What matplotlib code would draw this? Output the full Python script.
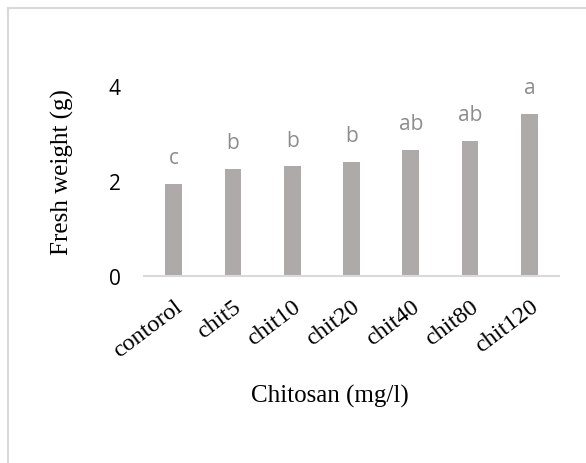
import matplotlib
matplotlib.use("Agg")
import matplotlib.pyplot as plt
from matplotlib.lines import Line2D

categories = ["contorol", "chit5", "chit10", "chit20", "chit40", "chit80", "chit120"]
fresh_weight = [1.94, 2.25, 2.31, 2.40, 2.65, 2.85, 3.42]
letters = ["c", "b", "b", "b", "ab", "ab", "a"]
yticks = [0, 2, 4]

W, H = 586, 464
fig = plt.figure(figsize=(W / 100, H / 100), dpi=100)
ax = fig.add_axes([144 / W, (H - 277) / H, 415 / W, 4.5 * 47.5 / H])

x = range(len(categories))
ax.bar(x, fresh_weight, width=0.28, color="#AEAAAA", zorder=2)
for i, (v, lab) in enumerate(zip(fresh_weight, letters)):
    ax.text(i, v + 0.33, lab, ha="center", va="bottom", fontsize=15,
            family="Open Sans", color="#8C8C8C", clip_on=False)

ax.set_xlim(-0.5, len(categories) - 0.5)
ax.set_ylim(0, 4.5)
ax.set_yticks(yticks)
ax.set_yticklabels([str(t) for t in yticks], family="Open Sans", fontsize=15)
ax.tick_params(axis="y", length=0, pad=17)
ax.set_xticks(list(x))
ax.set_xticklabels(categories, rotation=37, ha="right", rotation_mode="anchor",
                   family="Liberation Serif", fontsize=17.5)
ax.tick_params(axis="x", length=0, pad=14)
for s in ["top", "right", "left"]:
    ax.spines[s].set_visible(False)
ax.spines["bottom"].set_color("#D9D9D9")
ax.spines["bottom"].set_linewidth(1.5)

ax.set_ylabel("Fresh weight (g)", family="Liberation Serif", fontsize=18)
ax.yaxis.set_label_coords(-0.168, 0.49)
fig.text(330 / W, 1 - 396 / H, "Chitosan (mg/l)", family="Liberation Serif",
         fontsize=18, ha="center", va="center")

# chart frame (only top and left edges are inside the picture)
fig.add_artist(Line2D([8 / W, 8 / W], [0, 1 - 9 / H], transform=fig.transFigure,
                      color="#D9D9D9", lw=1.5))
fig.add_artist(Line2D([8 / W, 1], [1 - 9 / H, 1 - 9 / H], transform=fig.transFigure,
                      color="#D9D9D9", lw=1.5))

fig.savefig("out.png", dpi=100)
